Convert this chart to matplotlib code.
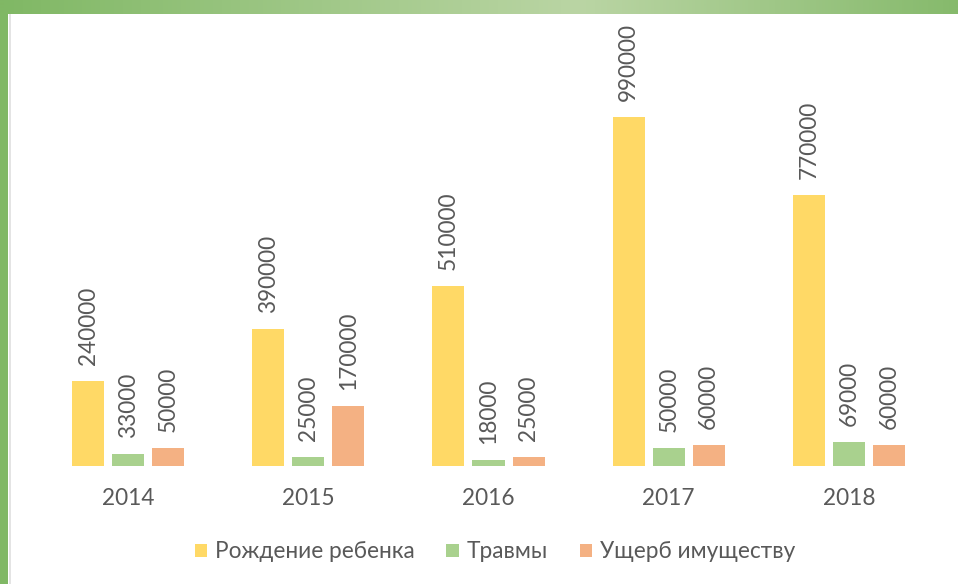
import matplotlib
matplotlib.use("Agg")
import matplotlib.pyplot as plt
import numpy as np
from matplotlib.colors import LinearSegmentedColormap

years = ["2014", "2015", "2016", "2017", "2018"]
birth = [240000, 390000, 510000, 990000, 770000]
injury = [33000, 25000, 18000, 50000, 69000]
damage = [50000, 170000, 25000, 60000, 60000]
series_names = ["Рождение ребенка", "Травмы", "Ущерб имуществу"]
colors = ["#FFD966", "#A9D18E", "#F4B183"]
text_color = "#595959"

plt.rcParams['font.family'] = ['Lato', 'DejaVu Sans']

W, H = 958, 584
fig = plt.figure(figsize=(W/100, H/100), dpi=100)
fig.patch.set_facecolor("white")

# decorative gradient top bar
top_ax = fig.add_axes([0, 1 - 14/H, 1, 14/H])
cmap = LinearSegmentedColormap.from_list("g", ["#80B865", "#BAD5A4", "#86BA6C"])
grad = np.concatenate([np.linspace(0, 0.5, 580), np.linspace(0.5, 1, 378)])[None, :]
top_ax.imshow(grad, aspect="auto", cmap=cmap, vmin=0, vmax=1, extent=[0, 1, 0, 1])
top_ax.axis("off")

# left green bar
left_ax = fig.add_axes([0, 0, 8/W, 1 - 14/H])
left_ax.set_facecolor("#80B865")
left_ax.set_xticks([]); left_ax.set_yticks([])
for s in left_ax.spines.values():
    s.set_visible(False)
line_ax = fig.add_axes([9/W, 0, 1.5/W, 1 - 14/H])
line_ax.set_facecolor("#E4E4E4")
line_ax.set_xticks([]); line_ax.set_yticks([])
for s in line_ax.spines.values():
    s.set_visible(False)

ymax = 1200000
left, right = 38, 939
bottom_px, top_px = 466, 466 - ymax * 349 / 990000
ax = fig.add_axes([left/W, 1 - bottom_px/H, (right-left)/W, (bottom_px-top_px)/H])
ax.set_xlim(-0.5, 4.5)
ax.set_ylim(0, ymax)

x = np.arange(len(years))
width = 32/180
step = 40/180
all_series = [birth, injury, damage]
for i, (vals, name, c) in enumerate(zip(all_series, series_names, colors)):
    pos = x + (i - 1) * step
    bars = ax.bar(pos, vals, width, color=c, label=name)
    for xp, v in zip(pos, vals):
        ax.annotate(str(v), (xp, v), xytext=(0, 11.5), textcoords="offset points",
                    rotation=90, ha="center", va="bottom", fontsize=16.3, color=text_color)

ax.set_xticks(x)
ax.set_xticklabels(years, fontsize=16.3, color=text_color)
ax.tick_params(axis="x", length=0, pad=16)
ax.set_yticks([])
for s in ax.spines.values():
    s.set_visible(False)

leg = fig.legend(loc="center", bbox_to_anchor=(495/W, 1 - 552/H), ncol=3, frameon=False,
                 fontsize=16.3, handlelength=0.55, handleheight=0.55, handletextpad=0.35,
                 columnspacing=1.4)
for t in leg.get_texts():
    t.set_color(text_color)

fig.savefig("out.png", dpi=100)
